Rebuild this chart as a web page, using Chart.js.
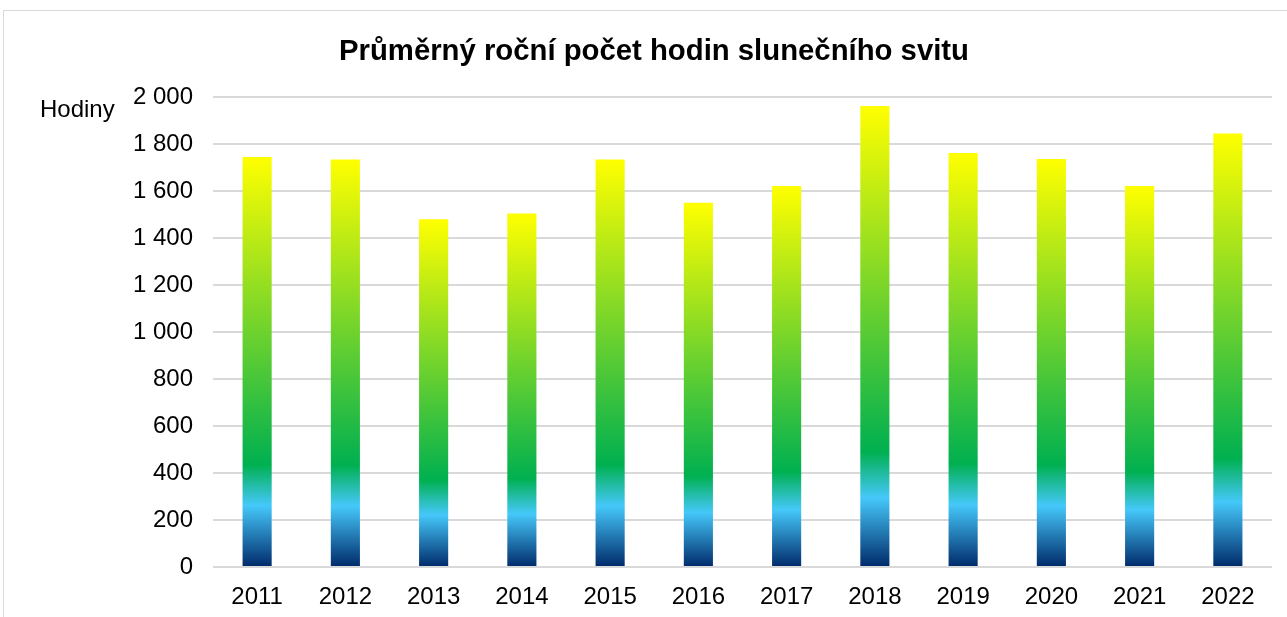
<!DOCTYPE html>
<html>
<head>
<meta charset="utf-8">
<script src="https://cdn.jsdelivr.net/npm/chart.js@4/dist/chart.umd.min.js"></script>
<style>
html,body{margin:0;padding:0;background:#fff;}
#wrap{position:absolute;left:3px;top:10px;width:1290px;height:620px;border:1px solid #d9d9d9;box-sizing:border-box;}
#c{position:absolute;left:0;top:0;}
</style>
</head>
<body>
<div id="wrap"></div>
<canvas id="c" width="1287" height="617"></canvas>
<script>
const years = ["2011","2012","2013","2014","2015","2016","2017","2018","2019","2020","2021","2022"];
const hours = [1745,1735,1480,1505,1735,1550,1622,1962,1762,1737,1622,1845];
const titleText = "Průměrný roční počet hodin slunečního svitu";
const axisLabel = "Hodiny";

function fmt(v){ return String(v).replace(/\B(?=(\d{3})+(?!\d))/g, " "); }

function barGradient(ctx){
  const chart = ctx.chart;
  const area = chart.chartArea;
  if(!area || ctx.type !== 'data') return '#00B050';
  const y = chart.scales.y;
  const y0 = y.getPixelForValue(0);
  const y1 = y.getPixelForValue(ctx.parsed.y);
  const g = chart.ctx.createLinearGradient(0, y0, 0, y1);
  g.addColorStop(0, '#002A6A');
  g.addColorStop(0.15, '#45C8FA');
  g.addColorStop(0.25, '#00B050');
  g.addColorStop(1, '#FFFF00');
  return g;
}

const FONT = '"Liberation Sans", Arial, sans-serif';

const labelPlugin = {
  id:'hodiny',
  afterDraw(chart){
    const c = chart.ctx;
    c.save();
    c.font = '24px ' + FONT;
    c.fillStyle = '#000';
    c.textBaseline = 'middle';
    c.textAlign = 'left';
    c.fillText(axisLabel, 40, 110);
    c.restore();
  }
};

new Chart(document.getElementById('c'), {
  type:'bar',
  data:{ labels: years, datasets:[{ data: hours, backgroundColor: barGradient, categoryPercentage: 1, barPercentage: 0.33, borderWidth:0 }]},
  options:{
    responsive:false, animation:false,
    layout:{ padding:{ left:36, right:15, top:10, bottom:0 } },
    plugins:{
      legend:{display:false}, tooltip:{enabled:false},
      title:{ display:true, text:titleText, color:'#000', font:{ family:FONT, size:29.3, weight:'bold' }, padding:{ top:24, bottom:28 } }
    },
    scales:{
      x:{ grid:{ display:false, drawTicks:false }, border:{display:false},
          ticks:{ color:'#000', font:{ family:FONT, size:24 }, padding:16 },
          afterFit(s){ s.height = 50; } },
      y:{ min:0, max:2000, grid:{ color:'#d9d9d9', lineWidth:2, drawTicks:false }, border:{display:false},
          ticks:{ stepSize:200, color:'#000', padding:20, font:{ family:FONT, size:24 }, callback:(v)=>fmt(v) },
          afterFit(s){ s.width = 177; } }
    }
  },
  plugins:[labelPlugin]
});
</script>
</body>
</html>
